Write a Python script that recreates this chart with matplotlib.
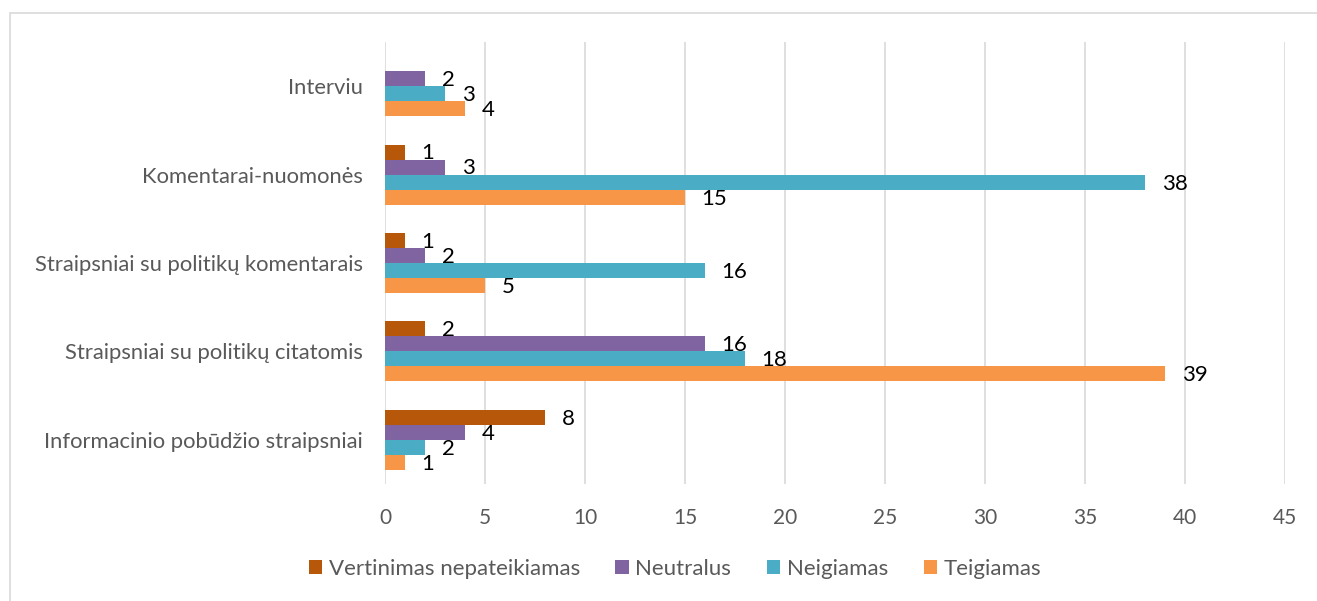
import matplotlib.pyplot as plt
from matplotlib.patches import Rectangle
import numpy as np

# Categories from bottom to top
categories = ['Informacinio pobūdžio straipsniai',
              'Straipsniai su politikų citatomis',
              'Straipsniai su politikų komentarais',
              'Komentarai-nuomonės',
              'Interviu']

series = ['Vertinimas nepateikiamas', 'Neutralus', 'Neigiamas', 'Teigiamas']
vertinimas = [8, 2, 1, 1, 0]
neutralus = [4, 16, 2, 3, 2]
neigiamas = [2, 18, 16, 38, 3]
teigiamas = [1, 39, 5, 15, 4]

colors = ['#B7570A', '#8064A2', '#4BACC6', '#F79646']

if __name__ == '__main__':
    plt.rcParams['font.family'] = ['Lato', 'DejaVu Sans']
    fig = plt.figure(figsize=(13.17, 6.01), dpi=100)
    ax = fig.add_axes([385/1317, 117/601, 900/1317, 442/601])

    y = np.arange(len(categories))
    h = 0.17
    offsets = [1.5*h, 0.5*h, -0.5*h, -1.5*h]
    data = [vertinimas, neutralus, neigiamas, teigiamas]

    for vals, off, col, name in zip(data, offsets, colors, series):
        bars = ax.barh(y + off, vals, height=h, color=col, label=name, zorder=3)
        for b, v in zip(bars, vals):
            if v == 0:
                continue
            ax.annotate(str(v), (b.get_width(), b.get_y() + h/2),
                        xytext=(12, -1), textcoords='offset points',
                        ha='left', va='center', fontsize=16, color='black')

    ax.set_xlim(0, 45)
    ax.set_ylim(-0.5, len(categories) - 0.5)
    ax.set_xticks(range(0, 46, 5))
    ax.set_yticks(y)
    ax.set_yticklabels(categories, fontsize=15.8)
    ax.tick_params(axis='both', length=0, colors='#595959')
    ax.tick_params(axis='x', labelsize=15, pad=17)
    ax.tick_params(axis='y', pad=16)
    for s in ax.spines.values():
        s.set_visible(False)
    ax.grid(axis='x', color='#D9D9D9', linewidth=1.2, zorder=0)

    leg = fig.legend(loc='center', bbox_to_anchor=(675/1317, 1 - 569/601), ncol=4,
                     frameon=False, fontsize=16, handlelength=0.6, handleheight=0.6,
                     handletextpad=0.3, columnspacing=1.6)
    for t in leg.get_texts():
        t.set_color('#595959')

    fig.patches.append(Rectangle((10/1317, -0.05), 1.1, 1 - 13.5/601 + 0.05,
                                 transform=fig.transFigure, fill=False,
                                 edgecolor='#D9D9D9', linewidth=1.2))

    plt.savefig('out.png', dpi=100)
